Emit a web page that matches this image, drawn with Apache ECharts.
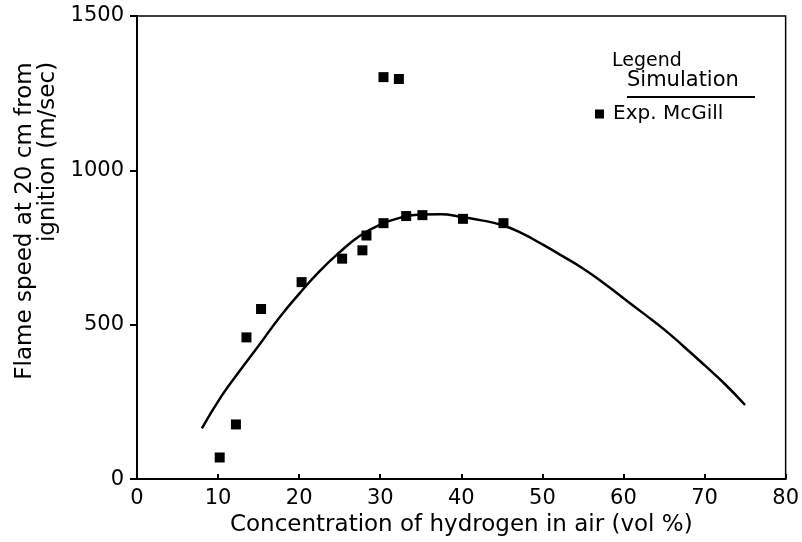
<!DOCTYPE html>
<html>
<head>
<meta charset="utf-8">
<script src="https://cdn.jsdelivr.net/npm/echarts@6/dist/echarts.min.js"></script>
<style>
html,body{margin:0;padding:0;background:#fff;}
#c{width:802px;height:542px;}
</style>
</head>
<body>
<div id="c"></div>
<script>
// Experimental data (Exp. McGill)
var expX = [10.2, 12.2, 13.5, 15.3, 20.3, 25.3, 27.8, 28.3, 30.4, 30.4, 32.3, 33.2, 35.2, 40.2, 45.2];
var expY = [70, 177, 459, 551, 638, 714, 741, 789, 829, 1302, 1296, 852, 855, 843, 829];
// Simulation curve
var simX = [8, 10.5, 13, 15, 17.5, 20, 22.5, 25, 27.5, 30, 32.5, 35, 37.5, 40, 42.5, 45, 47.5, 50, 52.5, 55, 57.5, 60, 62.5, 65, 67.5, 70, 72.5, 75];
var simY = [164, 272, 362, 432, 521, 600, 673, 735, 788, 824, 847, 857, 858, 849, 838, 823, 796, 760, 722, 682, 636, 586, 536, 485, 428, 369, 308, 240];
var xTicks = [0, 10, 20, 30, 40, 50, 60, 70, 80];
var yTicks = [0, 500, 1000, 1500];

var F = '"DejaVu Sans", sans-serif';
var chart = echarts.init(document.getElementById('c'), null, {renderer: 'canvas'});
var simData = simX.map(function (x, i) { return [x, simY[i]]; });
var expData = expX.map(function (x, i) { return [x, expY[i]]; });

chart.setOption({
  backgroundColor: '#fff',
  animation: false,
  grid: {left: 137, right: 13, top: 16, bottom: 60, show: true, borderColor: '#000', borderWidth: 1.5, backgroundColor: 'transparent'},
  xAxis: {
    type: 'value', min: xTicks[0], max: xTicks[xTicks.length - 1], interval: 10,
    name: 'Concentration of hydrogen in air (vol %)', nameLocation: 'middle', nameGap: 32,
    nameTextStyle: {fontFamily: F, fontSize: 23, color: '#000'},
    axisLine: {lineStyle: {color: '#000', width: 2}},
    axisTick: {inside: true, length: 5, lineStyle: {color: '#000', width: 2}},
    axisLabel: {fontFamily: F, fontSize: 21, color: '#000', margin: 9, formatter: function (v) { return String(v); }},
    splitLine: {show: false}
  },
  yAxis: {
    type: 'value', min: yTicks[0], max: yTicks[yTicks.length - 1], interval: 500,
    axisLine: {show: true, lineStyle: {color: '#000', width: 2}},
    axisTick: {show: true, inside: false, length: 7, lineStyle: {color: '#000', width: 2}},
    axisLabel: {fontFamily: F, fontSize: 21, color: '#000', margin: 13, formatter: function (v) { return String(v); }},
    splitLine: {show: false}
  },
  legend: {
    data: ['Exp. McGill'], left: 595, top: 104, padding: 0,
    icon: 'rect', itemWidth: 9, itemHeight: 9, itemGap: 5,
    textStyle: {fontFamily: F, fontSize: 20, color: '#000', padding: [0, 0, 0, 4]}
  },
  graphic: [
    {type: 'text', x: 25, y: 221, rotation: Math.PI / 2,
     style: {text: 'Flame speed at 20 cm from', font: '23px ' + F, fill: '#000', textAlign: 'center', textVerticalAlign: 'middle'}},
    {type: 'text', x: 48, y: 152, rotation: Math.PI / 2,
     style: {text: 'ignition (m/sec)', font: '23px ' + F, fill: '#000', textAlign: 'center', textVerticalAlign: 'middle'}},
    {type: 'text', x: 612, y: 61,
     style: {text: 'Legend', font: '19px ' + F, fill: '#000', textAlign: 'left', textVerticalAlign: 'middle'}},
    {type: 'text', x: 627, y: 81,
     style: {text: 'Simulation', font: '21px ' + F, fill: '#000', textAlign: 'left', textVerticalAlign: 'middle'}},
    {type: 'line', shape: {x1: 627, y1: 97, x2: 755, y2: 97}, style: {stroke: '#000', lineWidth: 2}}
  ],
  series: [
    {name: 'Simulation', type: 'line', data: simData, smooth: 0.5, showSymbol: false,
     lineStyle: {color: '#000', width: 2.5}, itemStyle: {color: '#000'}, z: 2},
    {name: 'Exp. McGill', type: 'scatter', data: expData, symbol: 'rect', symbolSize: 10,
     itemStyle: {color: '#000', opacity: 1}, z: 3}
  ]
});
</script>
</body>
</html>
